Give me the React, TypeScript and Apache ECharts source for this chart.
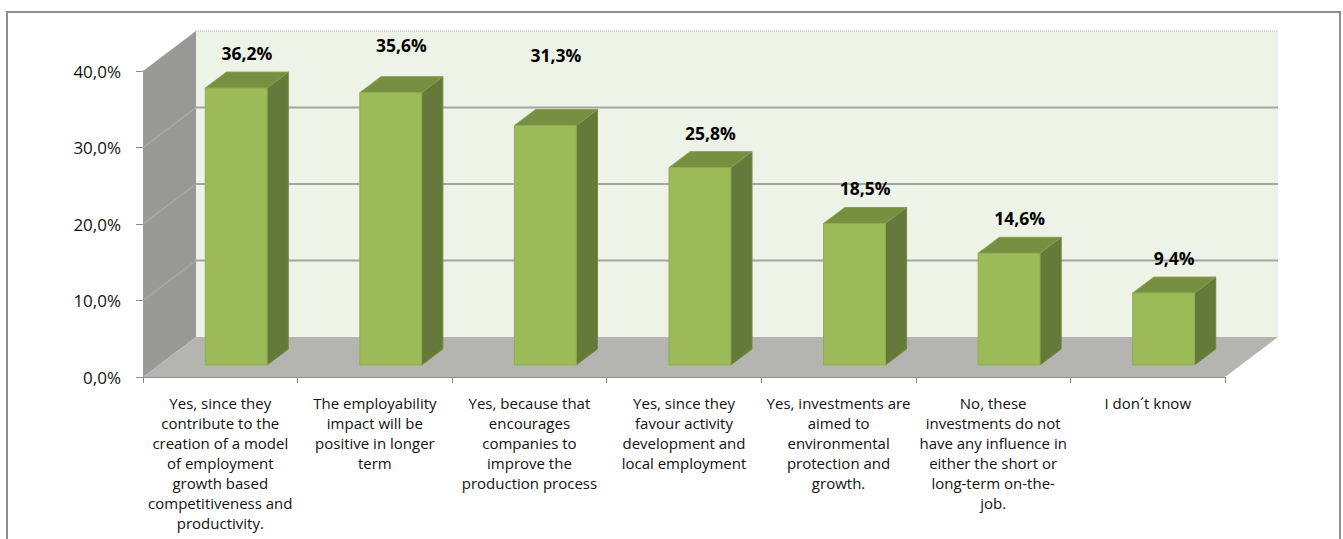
import React, { useEffect, useRef } from "react";
import * as echarts from "echarts";

const categories: string[] = [
  "Yes, since they\ncontribute to the\ncreation of a model\nof employment\ngrowth based\ncompetitiveness and\nproductivity.",
  "The employability\nimpact will be\npositive in longer\nterm",
  "Yes, because that\nencourages\ncompanies to\nimprove the\nproduction process",
  "Yes, since they\nfavour activity\ndevelopment and\nlocal employment",
  "Yes, investments are\naimed to\nenvironmental\nprotection and\ngrowth.",
  "No, these\ninvestments do not\nhave any influence in\neither the short or\nlong-term on-the-\njob.",
  "I don´t know",
];

const values: number[] = [36.2, 35.6, 31.3, 25.8, 18.5, 14.6, 9.4];

const yTicks: number[] = [0, 10, 20, 30, 40];

const FONT = "'Open Sans', 'Noto Sans', sans-serif";
const DX = 53;
const DY = -40;
// extra lift (px) applied to individual data labels, as in the source
const labelLift: number[] = [0, 13, 36, 0, 0, 0, 0];

const fmt = (v: number) => v.toFixed(1).replace(".", ",") + "%";

export default function App() {
  const ref = useRef<HTMLDivElement>(null);

  useEffect(() => {
    if (!ref.current) return;
    const chart = echarts.init(ref.current, null, { renderer: "svg" });
    const yMax = yTicks[yTicks.length - 1];

    const option: any = {
      animation: false,
      backgroundColor: "#ffffff",
      grid: { left: 143, right: 118, top: 71, bottom: 162, containLabel: false },
      graphic: [
        {
          type: "rect",
          shape: { x: 7, y: 12, width: 1333, height: 545 },
          style: { fill: "none", stroke: "#8e8e8e", lineWidth: 2 },
          z: 100,
        },
      ],
      xAxis: {
        type: "category",
        data: categories,
        boundaryGap: true,
        axisLine: { show: true, lineStyle: { color: "#8a8a8a", width: 1 } },
        axisTick: { show: true, length: 6, lineStyle: { color: "#8a8a8a" } },
        axisLabel: {
          interval: 0,
          margin: 16,
          fontFamily: FONT,
          fontSize: 15,
          lineHeight: 20,
          color: "#111",
          align: "center",
        },
        splitLine: { show: false },
      },
      yAxis: {
        type: "value",
        min: 0,
        max: yMax,
        interval: 10,
        axisLine: { show: true, lineStyle: { color: "#8a8a8a", width: 1 } },
        axisTick: { show: true, length: 7, lineStyle: { color: "#8a8a8a" } },
        axisLabel: {
          margin: 22,
          fontFamily: FONT,
          fontSize: 17,
          color: "#111",
          formatter: (v: number) => fmt(v),
        },
        splitLine: { show: false },
      },
      series: [
        {
          type: "custom",
          z: 1,
          silent: true,
          data: [[0, 0]],
          renderItem: (params: any, api: any) => {
            const cs = params.coordSys;
            const x0 = cs.x;
            const x1 = cs.x + cs.width;
            const yb = cs.y + cs.height;
            const yt = api.coord([0, yMax])[1];
            const children: any[] = [];
            children.push({
              type: "polygon",
              shape: {
                points: [
                  [x0 + DX, yt + DY],
                  [x1 + DX, yt + DY],
                  [x1 + DX, yb + DY],
                  [x0 + DX, yb + DY],
                ],
              },
              style: { fill: "#eef3e8" },
            });
            children.push({
              type: "polygon",
              shape: {
                points: [
                  [x0, yt],
                  [x0 + DX, yt + DY],
                  [x0 + DX, yb + DY],
                  [x0, yb],
                ],
              },
              style: {
                fill: new echarts.graphic.LinearGradient(0, 0, 1, 0, [
                  { offset: 0, color: "#9a9b97" },
                  { offset: 1, color: "#979894" },
                ]),
              },
            });
            children.push({
              type: "polygon",
              shape: {
                points: [
                  [x0, yb],
                  [x0 + DX, yb + DY],
                  [x1 + DX, yb + DY],
                  [x1, yb],
                ],
              },
              style: { fill: "#b4b5b1" },
            });
            yTicks.forEach((t) => {
              if (t === 0) return;
              const y = api.coord([0, t])[1];
              if (t === yMax) {
                children.push({
                  type: "line",
                  shape: { x1: x0 + DX, y1: y + DY, x2: x1 + DX, y2: y + DY },
                  style: { stroke: "#c8c8c8", lineWidth: 1.5, lineDash: [1, 1] },
                });
                return;
              }
              children.push({
                type: "line",
                shape: { x1: x0 + DX, y1: y + DY, x2: x1 + DX, y2: y + DY },
                style: { stroke: "#a4a5a2", lineWidth: 2 },
              });
              children.push({
                type: "line",
                shape: { x1: x0, y1: y, x2: x0 + DX, y2: y + DY },
                style: { stroke: "#a9aaa6", lineWidth: 1.5 },
              });
            });
            return { type: "group", children };
          },
        },
        {
          type: "custom",
          z: 2,
          data: values.map((v, i) => [i, v]),
          renderItem: (params: any, api: any) => {
            const idx = api.value(0);
            const v = api.value(1);
            const p0 = api.coord([idx, 0]);
            const pt = api.coord([idx, v]);
            const bw = api.size([1, 0])[0];
            const w = bw * 0.4;
            const fx = p0[0] - w / 2 + 0.3 * DX;
            const fy0 = p0[1] + 0.3 * DY;
            const fyt = pt[1] + 0.3 * DY;
            const ddx = 0.4 * DX;
            const ddy = 0.4 * DY;
            const edge = "#8fae4f";
            return {
              type: "group",
              children: [
                {
                  type: "polygon",
                  shape: {
                    points: [
                      [fx + w, fyt],
                      [fx + w + ddx, fyt + ddy],
                      [fx + w + ddx, fy0 + ddy],
                      [fx + w, fy0],
                    ],
                  },
                  style: { fill: "#64793a", stroke: "#6f8a3e", lineWidth: 1 },
                },
                {
                  type: "polygon",
                  shape: {
                    points: [
                      [fx, fyt],
                      [fx + ddx, fyt + ddy],
                      [fx + w + ddx, fyt + ddy],
                      [fx + w, fyt],
                    ],
                  },
                  style: { fill: "#778f40", stroke: "#86a24a", lineWidth: 1 },
                },
                {
                  type: "rect",
                  shape: { x: fx, y: fyt, width: w, height: fy0 - fyt },
                  style: { fill: "#9bbb59", stroke: edge, lineWidth: 1 },
                },
                {
                  type: "text",
                  x: fx + w / 2 + ddx / 2,
                  y: fyt + ddy - 19 - labelLift[idx],
                  style: {
                    text: fmt(v),
                    fontFamily: FONT,
                    fontSize: 17.5,
                    fontWeight: "bold",
                    fill: "#000",
                    align: "center",
                    verticalAlign: "middle",
                  },
                },
              ],
            };
          },
        },
      ],
    };

    chart.setOption(option);
    return () => chart.dispose();
  }, []);

  return (
    <div
      ref={ref}
      style={{ position: "fixed", left: 0, top: 0, width: 1343, height: 539 }}
    />
  );
}
